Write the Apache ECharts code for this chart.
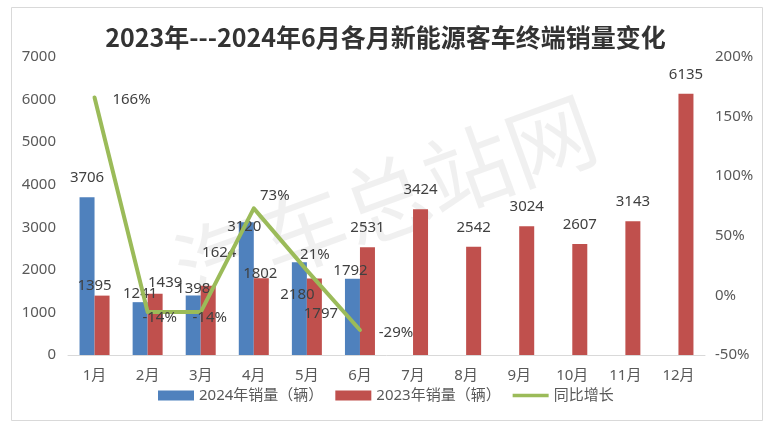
<!DOCTYPE html>
<html>
<head>
<meta charset="utf-8">
<script src="https://cdn.jsdelivr.net/npm/echarts@6/dist/echarts.min.js"></script>
<style>
html,body{margin:0;padding:0;background:#fff;}
#c{width:771px;height:427px;}
</style>
</head>
<body>
<div id="c"></div>
<script>
// ---- data ----
var months = ['1月','2月','3月','4月','5月','6月','7月','8月','9月','10月','11月','12月'];
var sales2024 = [3706, 1241, 1398, 3120, 2180, 1792, null, null, null, null, null, null];
var sales2023 = [1395, 1439, 1624, 1802, 1797, 2531, 3424, 2542, 3024, 2607, 3143, 6135];
var yoy = [166, -14, -14, 73, 21, -29, null, null, null, null, null, null];
var titleText = '2023年---2024年6月各月新能源客车终端销量变化';
var seriesNames = ['2024年销量（辆）', '2023年销量（辆）', '同比增长'];

// ---- label placement tweaks (pixels) ----
var off2024 = [[0,0],[0,11],[0,12.5],[-2,24],[-2,52],[-2,12]];
var off2023 = [[-7.5,9.5],[10,8],[11,-14],[-1,15],[6.5,54.5],[0,0]];
var offYoy = [[37,2],[12,6],[9,6],[21,-13],[8,-15.5],[36,2.5]];

var FONT = "'Noto Sans', 'Noto Sans CJK SC', sans-serif";
var TXT = '#404040';

function withOffsets(arr, offs) {
  return arr.map(function (v, i) {
    if (v === null) return null;
    var o = offs[i];
    if (!o) return v;
    return { value: v, label: { offset: o } };
  });
}

var chart = echarts.init(document.getElementById('c'), null, { renderer: 'canvas' });
chart.setOption({
  backgroundColor: '#ffffff',
  animation: false,
  title: {
    text: titleText,
    left: 'center',
    top: 20,
    textStyle: { fontFamily: "'Noto Sans CJK SC', sans-serif", fontSize: 25, fontWeight: 'bold', color: '#333333' }
  },
  graphic: [
    { type: 'rect', shape: { x: 11.5, y: 7.5, width: 751, height: 413 }, style: { fill: null, stroke: '#d9d9d9', lineWidth: 1 }, silent: true, z: -10 },
    { type: 'text', x: 385, y: 200, rotation: 20 * Math.PI / 180, z: -5, silent: true,
      style: { text: '汽车总站网', fontSize: 88, fontFamily: "'Noto Sans CJK SC', sans-serif", fill: 'rgba(0,0,0,0.06)', align: 'center', verticalAlign: 'middle' } }
  ],
  grid: { left: 68, right: 66, top: 57, bottom: 72, containLabel: false },
  legend: {
    left: 153, top: 383,
    itemWidth: 36, itemHeight: 10, itemGap: 12,
    textStyle: { fontFamily: FONT, fontSize: 15, color: '#595959' },
    data: [
      { name: seriesNames[0], icon: 'rect' },
      { name: seriesNames[1], icon: 'rect' },
      { name: seriesNames[2], icon: 'path://M0 0h36v3.5H0z' }
    ]
  },
  xAxis: {
    type: 'category',
    data: months,
    axisTick: { show: false },
    axisLine: { lineStyle: { color: '#d9d9d9', width: 1 } },
    axisLabel: { fontFamily: FONT, fontSize: 15, color: '#595959', margin: 13 }
  },
  yAxis: [
    { type: 'value', min: 0, max: 7000, interval: 1000,
      splitLine: { show: false }, axisLine: { show: false }, axisTick: { show: false },
      axisLabel: { fontFamily: FONT, fontSize: 15, color: '#595959', margin: 12,
        formatter: function (v) { return String(v); } } },
    { type: 'value', min: -50, max: 200, interval: 50, position: 'right',
      splitLine: { show: false }, axisLine: { show: false }, axisTick: { show: false },
      axisLabel: { fontFamily: FONT, fontSize: 15, color: '#595959', margin: 10, formatter: '{value}%' } }
  ],
  series: [
    { name: seriesNames[0], type: 'bar', barWidth: 15, barGap: '0%',
      itemStyle: { color: '#4F81BD' },
      label: { show: true, position: 'top', distance: 12, fontFamily: FONT, fontSize: 15, color: TXT },
      data: withOffsets(sales2024, off2024) },
    { name: seriesNames[1], type: 'bar', barWidth: 15, barGap: '0%',
      itemStyle: { color: '#C0504D' },
      label: { show: true, position: 'top', distance: 12, fontFamily: FONT, fontSize: 15, color: TXT },
      data: withOffsets(sales2023, off2023) },
    { name: seriesNames[2], type: 'line', yAxisIndex: 1, symbol: 'none', z: 5,
      lineStyle: { color: '#9BBB59', width: 4, join: 'round', cap: 'round' },
      itemStyle: { color: '#9BBB59' },
      data: yoy },
    { name: 'yoyLabels', type: 'scatter', yAxisIndex: 1, symbolSize: 0.5, z: 6, silent: true,
      itemStyle: { color: '#9BBB59', opacity: 1 },
      label: { show: true, position: 'inside', fontFamily: FONT, fontSize: 15, color: TXT, opacity: 1,
        formatter: function (p) { return p.value + '%'; } },
      data: withOffsets(yoy, offYoy) }
  ]
});
</script>
</body>
</html>
